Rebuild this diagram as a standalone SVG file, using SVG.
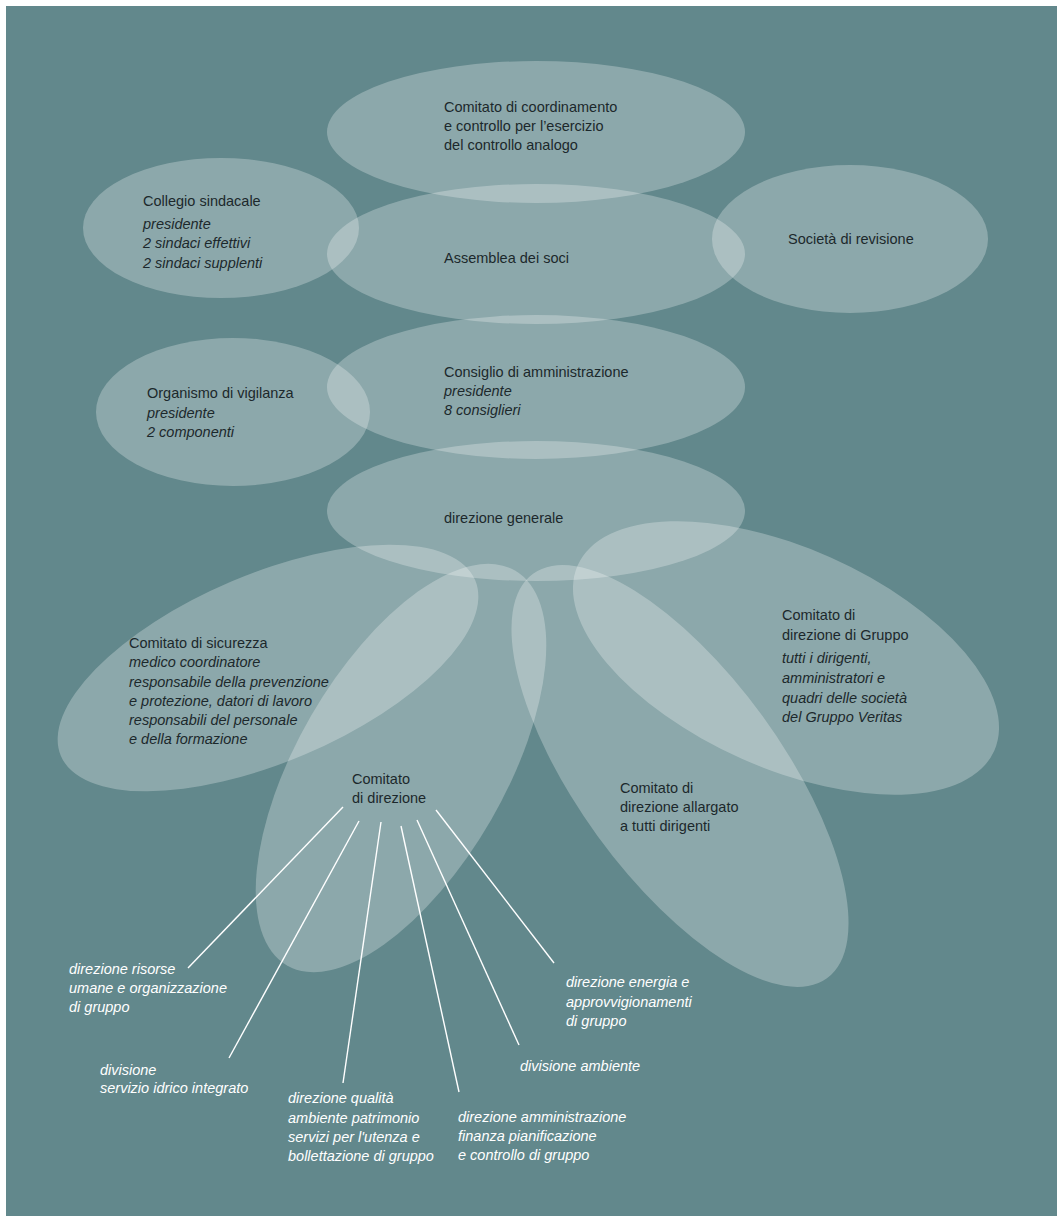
<svg xmlns="http://www.w3.org/2000/svg" width="1057" height="1216" viewBox="0 0 1057 1216">
<style>
.bg{fill:#62888c}
.el{fill:#ffffff;fill-opacity:0.27}
.t{font-family:"Liberation Sans",Arial,sans-serif;font-size:14.5px;fill:#1c282c}
.i{font-style:italic}
.w{font-family:"Liberation Sans",Arial,sans-serif;font-size:14.5px;font-style:italic;fill:#ffffff}
.ln{stroke:#ffffff;stroke-width:1.4;fill:none}
</style>
<rect x="0" y="0" width="1057" height="1216" fill="#ffffff"/>
<rect class="bg" x="6" y="6" width="1051" height="1210"/>

<g id="comitato-coordinamento">
<ellipse class="el" cx="536" cy="132" rx="209" ry="71"/>
<text class="t" x="444" y="112">Comitato di coordinamento</text>
<text class="t" x="444" y="131">e controllo per l’esercizio</text>
<text class="t" x="444" y="150">del controllo analogo</text>
</g>

<g id="collegio-sindacale">
<ellipse class="el" cx="221" cy="228" rx="138" ry="70"/>
<text class="t" x="143" y="206">Collegio sindacale</text>
<text class="t i" x="143" y="229">presidente</text>
<text class="t i" x="143" y="248">2 sindaci effettivi</text>
<text class="t i" x="143" y="268">2 sindaci supplenti</text>
</g>

<g id="societa-revisione">
<ellipse class="el" cx="850" cy="239" rx="138" ry="74"/>
<text class="t" x="788" y="244">Società di revisione</text>
</g>

<g id="assemblea-soci">
<ellipse class="el" cx="536" cy="254" rx="209" ry="70"/>
<text class="t" x="444" y="263">Assemblea dei soci</text>
</g>

<g id="organismo-vigilanza">
<ellipse class="el" cx="233" cy="412" rx="137" ry="74"/>
<text class="t" x="147" y="398">Organismo di vigilanza</text>
<text class="t i" x="147" y="418">presidente</text>
<text class="t i" x="147" y="437">2 componenti</text>
</g>

<g id="consiglio-amministrazione">
<ellipse class="el" cx="536" cy="387" rx="209" ry="72"/>
<text class="t" x="444" y="377">Consiglio di amministrazione</text>
<text class="t i" x="444" y="396">presidente</text>
<text class="t i" x="444" y="415">8 consiglieri</text>
</g>

<g id="direzione-generale">
<ellipse class="el" cx="536" cy="511" rx="209" ry="70"/>
<text class="t" x="444" y="523">direzione generale</text>
</g>

<g id="comitato-allargato">
<ellipse class="el" cx="680" cy="776" rx="102" ry="250" transform="rotate(-36 680 776)"/>
<text class="t" x="620" y="793">Comitato di</text>
<text class="t" x="620" y="812">direzione allargato</text>
<text class="t" x="620" y="831">a tutti dirigenti</text>
</g>

<g id="comitato-gruppo">
<ellipse class="el" cx="786" cy="658" rx="228" ry="110" transform="rotate(24 786 658)"/>
<text class="t" x="782" y="620">Comitato di</text>
<text class="t" x="782" y="640">direzione di Gruppo</text>
<text class="t i" x="782" y="663">tutti i dirigenti,</text>
<text class="t i" x="782" y="683">amministratori e</text>
<text class="t i" x="782" y="703">quadri delle società</text>
<text class="t i" x="782" y="722">del Gruppo Veritas</text>
</g>

<g id="comitato-direzione">
<ellipse class="el" cx="401" cy="768" rx="104" ry="228" transform="rotate(30 401 768)"/>
<text class="t" x="352" y="784">Comitato</text>
<text class="t" x="352" y="803">di direzione</text>
</g>

<g id="comitato-sicurezza">
<ellipse class="el" cx="268" cy="668" rx="225" ry="94" transform="rotate(-23 268 668)"/>
<text class="t" x="129" y="648">Comitato di sicurezza</text>
<text class="t i" x="129" y="667">medico coordinatore</text>
<text class="t i" x="129" y="687">responsabile della prevenzione</text>
<text class="t i" x="129" y="706">e protezione, datori di lavoro</text>
<text class="t i" x="129" y="725">responsabili del personale</text>
<text class="t i" x="129" y="744">e della formazione</text>
</g>

<g id="dir-risorse-umane">
<text class="w" x="69" y="974">direzione risorse</text>
<text class="w" x="69" y="993">umane e organizzazione</text>
<text class="w" x="69" y="1012">di gruppo</text>
</g>

<g id="div-idrico">
<text class="w" x="100" y="1075">divisione</text>
<text class="w" x="100" y="1093">servizio idrico integrato</text>
</g>

<g id="dir-qualita">
<text class="w" x="288" y="1103">direzione qualità</text>
<text class="w" x="288" y="1123">ambiente patrimonio</text>
<text class="w" x="288" y="1142">servizi per l'utenza e</text>
<text class="w" x="288" y="1161">bollettazione di gruppo</text>
</g>

<g id="dir-amministrazione">
<text class="w" x="458" y="1122">direzione amministrazione</text>
<text class="w" x="458" y="1141">finanza pianificazione</text>
<text class="w" x="458" y="1160">e controllo di gruppo</text>
</g>

<g id="div-ambiente">
<text class="w" x="520" y="1071">divisione ambiente</text>
</g>

<g id="dir-energia">
<text class="w" x="566" y="987">direzione energia e</text>
<text class="w" x="566" y="1007">approvvigionamenti</text>
<text class="w" x="566" y="1026">di gruppo</text>
</g>

<g id="connectors">
<line class="ln" x1="343" y1="807" x2="188" y2="968"/>
<line class="ln" x1="359" y1="821" x2="229" y2="1058"/>
<line class="ln" x1="381" y1="822" x2="343" y2="1083"/>
<line class="ln" x1="401" y1="826" x2="459" y2="1092"/>
<line class="ln" x1="417" y1="820" x2="519" y2="1045"/>
<line class="ln" x1="436" y1="810" x2="554" y2="963"/>
</g>
</svg>
